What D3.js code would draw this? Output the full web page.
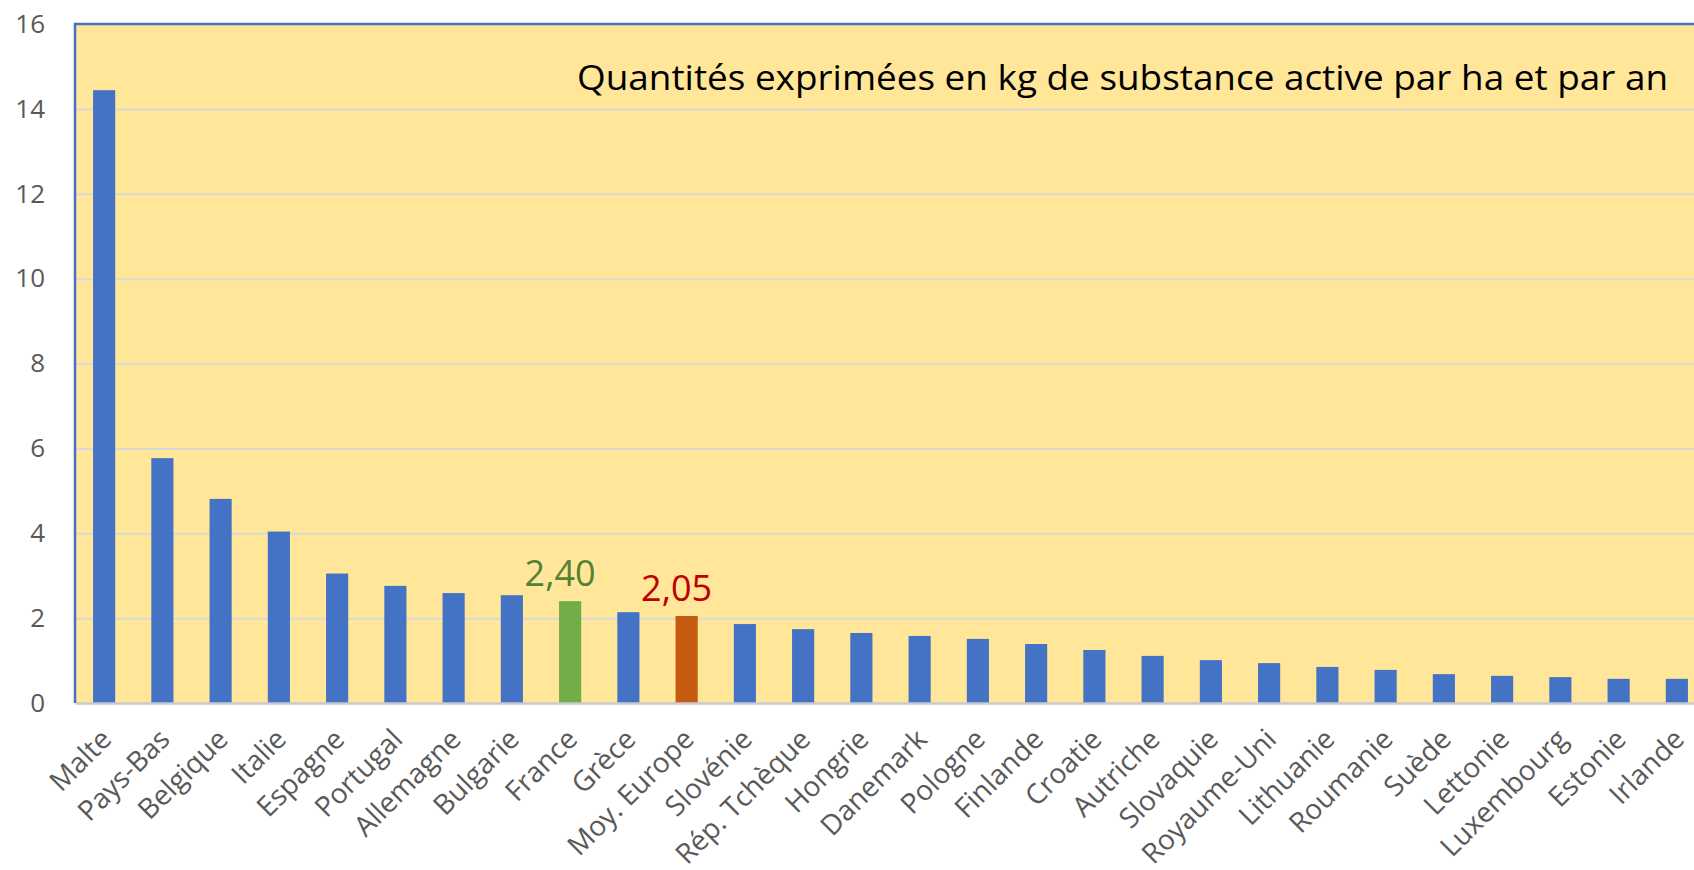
<!DOCTYPE html>
<html>
<head>
<meta charset="utf-8">
<script src="https://cdn.jsdelivr.net/npm/d3@7"></script>
<style>
  body { margin: 0; background: #ffffff; }
  text { font-family: "Open Sans", sans-serif; }
</style>
</head>
<body>
<div id="chart"></div>
<script>
const COUNTRIES = ["Malte", "Pays-Bas", "Belgique", "Italie", "Espagne", "Portugal",
  "Allemagne", "Bulgarie", "France", "Grèce", "Moy. Europe", "Slovénie", "Rép. Tchèque",
  "Hongrie", "Danemark", "Pologne", "Finlande", "Croatie", "Autriche", "Slovaquie",
  "Royaume-Uni", "Lithuanie", "Roumanie", "Suède", "Lettonie", "Luxembourg", "Estonie", "Irlande"];
const VALUES = [14.44, 5.77, 4.81, 4.04, 3.05, 2.76, 2.59, 2.54, 2.40, 2.14, 2.05, 1.86, 1.74,
  1.65, 1.58, 1.51, 1.39, 1.25, 1.11, 1.01, 0.94, 0.85, 0.78, 0.68, 0.64, 0.61, 0.57, 0.57];
const Y_TICKS = [0, 2, 4, 6, 8, 10, 12, 14, 16];
const HIGHLIGHTS = { "France": { bar: "#70AD47", label: "#548235", text: "2,40" },
  "Moy. Europe": { bar: "#C55A11", label: "#C00000", text: "2,05" } };
const TITLE = "Quantités exprimées en kg de substance active par ha et par an";

const WIDTH = 1694;
const HEIGHT = 870;
const PLOT = { LEFT: 75, TOP: 24, RIGHT: 1706, BOTTOM: 703 };

const SVG = d3.select("#chart").append("svg")
  .attr("width", WIDTH)
  .attr("height", HEIGHT);

const X_SCALE = d3.scaleBand()
  .domain(COUNTRIES)
  .range([PLOT.LEFT, PLOT.RIGHT])
  .paddingInner(0.62)
  .paddingOuter(0.31);

const Y_SCALE = d3.scaleLinear()
  .domain([0, 16])
  .range([PLOT.BOTTOM, PLOT.TOP]);

// plot background
SVG.append("rect")
  .attr("x", PLOT.LEFT)
  .attr("y", PLOT.TOP)
  .attr("width", PLOT.RIGHT - PLOT.LEFT)
  .attr("height", PLOT.BOTTOM - PLOT.TOP)
  .attr("fill", "#FFE699");

// gridlines
SVG.append("g")
  .attr("transform", "translate(" + PLOT.LEFT + ",0)")
  .call(d3.axisLeft(Y_SCALE).tickValues(Y_TICKS.slice(1, -1)).tickSize(-(PLOT.RIGHT - PLOT.LEFT)).tickFormat(""))
  .call((g) => g.select(".domain").remove())
  .call((g) => g.selectAll("line").attr("stroke", "#D9D9D9").attr("stroke-width", 2));

// y axis labels
SVG.append("g")
  .attr("transform", "translate(" + (PLOT.LEFT - 30) + ",0)")
  .call(d3.axisLeft(Y_SCALE).tickValues(Y_TICKS).tickSize(0).tickPadding(0))
  .call((g) => g.select(".domain").remove())
  .call((g) => g.selectAll("text")
    .attr("font-size", 26)
    .attr("font-family", "Open Sans")
    .attr("fill", "#595959"));

// bars
SVG.selectAll("rect.bar")
  .data(COUNTRIES)
  .enter()
  .append("rect")
  .attr("class", "bar")
  .attr("x", (d) => X_SCALE(d))
  .attr("y", (d, i) => Y_SCALE(VALUES[i]))
  .attr("width", X_SCALE.bandwidth())
  .attr("height", (d, i) => Y_SCALE(0) - Y_SCALE(VALUES[i]))
  .attr("fill", (d) => HIGHLIGHTS[d] ? HIGHLIGHTS[d].bar : "#4472C4");

// value labels for highlighted bars
SVG.selectAll("text.value")
  .data(COUNTRIES.filter((d) => HIGHLIGHTS[d]))
  .enter()
  .append("text")
  .attr("class", "value")
  .attr("x", (d) => X_SCALE(d) + X_SCALE.bandwidth() / 2 - 10)
  .attr("y", (d) => Y_SCALE(VALUES[COUNTRIES.indexOf(d)]) - 15)
  .attr("text-anchor", "middle")
  .attr("font-size", 36)
  .attr("fill", (d) => HIGHLIGHTS[d].label)
  .text((d) => HIGHLIGHTS[d].text);

// x axis
SVG.append("g")
  .attr("transform", "translate(0," + PLOT.BOTTOM + ")")
  .call(d3.axisBottom(X_SCALE).tickSize(0).tickPadding(0))
  .call((g) => g.select(".domain").attr("stroke", "#C9C9D2").attr("stroke-width", 2.5))
  .call((g) => g.selectAll("text")
    .attr("font-size", 28)
    .attr("font-family", "Open Sans")
    .attr("fill", "#595959")
    .attr("text-anchor", "end")
    .attr("dy", 0)
    .attr("transform", "translate(9,38) rotate(-45)"));

// plot border (left and top)
SVG.append("path")
  .attr("d", "M" + PLOT.LEFT + "," + PLOT.BOTTOM + "V" + PLOT.TOP + "H" + WIDTH)
  .attr("fill", "none")
  .attr("stroke", "#4472C4")
  .attr("stroke-width", 2.5);

// title
SVG.append("text")
  .attr("x", 1668)
  .attr("y", 90)
  .attr("text-anchor", "end")
  .attr("font-size", 35)
  .attr("fill", "#000000")
  .attr("textLength", 1091)
  .attr("lengthAdjust", "spacingAndGlyphs")
  .text(TITLE);
</script>
</body>
</html>
